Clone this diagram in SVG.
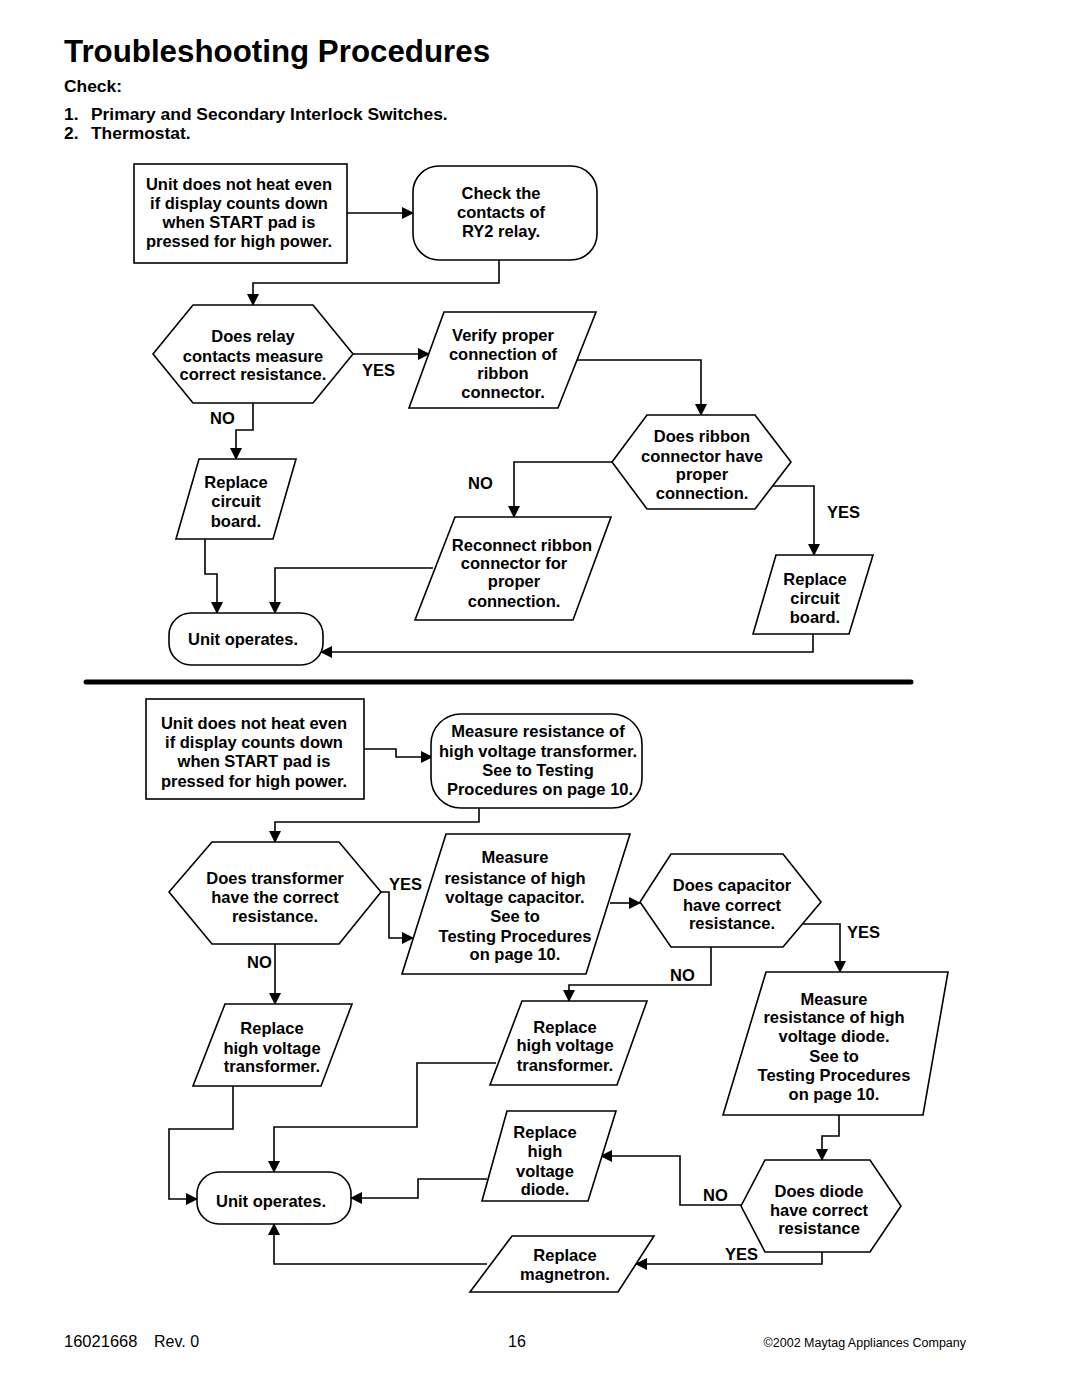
<svg xmlns="http://www.w3.org/2000/svg" width="1080" height="1397" viewBox="0 0 1080 1397">
<defs>
<marker id="arr" markerUnits="userSpaceOnUse" markerWidth="12" markerHeight="12" refX="11" refY="6" orient="auto">
<path d="M0,0 L12,6 L0,12 z" fill="#000"/>
</marker>
<style>
.n{fill:#fff;stroke:#000;stroke-width:1.6}
.t{font-family:"Liberation Sans",Arial,sans-serif;font-weight:bold;font-size:16.5px;text-anchor:middle;fill:#000}
.l{font-family:"Liberation Sans",Arial,sans-serif;font-weight:bold;font-size:16.5px;fill:#000}
.c{fill:none;stroke:#000;stroke-width:1.6;marker-end:url(#arr)}
.h{font-family:"Liberation Sans",Arial,sans-serif;font-weight:bold;fill:#000}
.f{font-family:"Liberation Sans",Arial,sans-serif;fill:#000}
</style>
</defs>
<rect width="1080" height="1397" fill="#fff"/>

<g id="header">
<text class="h" x="64" y="62" font-size="31.3">Troubleshooting Procedures</text>
<text class="h" x="64" y="92" font-size="17.4">Check:</text>
<text class="h" x="64" y="120" font-size="17.4">1.</text>
<text class="h" x="91" y="120" font-size="17.4">Primary and Secondary Interlock Switches.</text>
<text class="h" x="64" y="139" font-size="17.4">2.</text>
<text class="h" x="91" y="139" font-size="17.4">Thermostat.</text>
</g>

<g id="connectors">
<path class="c" d="M347,213 H413"/>
<path class="c" d="M499,260 V283 H253 V305"/>
<path class="c" d="M353,354 H429"/>
<path class="c" d="M577,360 H701 V415"/>
<path class="c" d="M612,462 H514 V517"/>
<path class="c" d="M773,486 H814 V555"/>
<path class="c" d="M253,403 V430 H236 V459"/>
<path class="c" d="M205,539 V574 H217 V613"/>
<path class="c" d="M433,568 H275 V613"/>
<path class="c" d="M813,634 V652 H321"/>
<path class="c" d="M362,749 H396 V757 H432"/>
<path class="c" d="M479,808 V822 H275 V842"/>
<path class="c" d="M381,892 H389 V938 H413"/>
<path class="c" d="M610,903 H640"/>
<path class="c" d="M803,924 H840 V972"/>
<path class="c" d="M711,947 V985 H569 V1001"/>
<path class="c" d="M275,944 V1004"/>
<path class="c" d="M496,1063 H417 V1127 H274 V1172"/>
<path class="c" d="M233,1086 V1129 H169 V1199 H197"/>
<path class="c" d="M487,1179 H418 V1198 H351"/>
<path class="c" d="M487,1264 H274 V1224"/>
<path class="c" d="M839,1115 V1136 H822 V1160"/>
<path class="c" d="M741,1205 H680 V1156 H601"/>
<path class="c" d="M822,1252 V1264 H636"/>
</g>

<g id="labels">
<text class="l" x="362" y="376">YES</text>
<text class="l" x="210" y="424">NO</text>
<text class="l" x="468" y="489">NO</text>
<text class="l" x="827" y="518">YES</text>
<text class="l" x="389" y="890">YES</text>
<text class="l" x="247" y="968">NO</text>
<text class="l" x="847" y="938">YES</text>
<text class="l" x="670" y="981">NO</text>
<text class="l" x="703" y="1201">NO</text>
<text class="l" x="725" y="1260">YES</text>
</g>

<g id="n1">
<rect class="n" x="134" y="164" width="213" height="99"/>
<text class="t" x="239" y="190">Unit does not heat even</text>
<text class="t" x="239" y="209">if display counts down</text>
<text class="t" x="239" y="228">when START pad is</text>
<text class="t" x="239" y="247">pressed for high power.</text>
</g>

<g id="n2">
<rect class="n" x="413" y="166" width="184" height="94" rx="26"/>
<text class="t" x="501" y="199">Check the</text>
<text class="t" x="501" y="218">contacts of</text>
<text class="t" x="501" y="237">RY2 relay.</text>
</g>

<g id="n3">
<polygon class="n" points="153,354 193,305 313,305 353,354 313,403 193,403"/>
<text class="t" x="253" y="342">Does relay</text>
<text class="t" x="253" y="362">contacts measure</text>
<text class="t" x="253" y="380">correct resistance.</text>
</g>

<g id="n4">
<polygon class="n" points="444,312 596,312 558,408 409,408"/>
<text class="t" x="503" y="341">Verify proper</text>
<text class="t" x="503" y="360">connection of</text>
<text class="t" x="503" y="379">ribbon</text>
<text class="t" x="503" y="398">connector.</text>
</g>

<g id="n5">
<polygon class="n" points="612,462 647,415 755,415 791,462 755,509 647,509"/>
<text class="t" x="702" y="442">Does ribbon</text>
<text class="t" x="702" y="462">connector have</text>
<text class="t" x="702" y="480">proper</text>
<text class="t" x="702" y="499">connection.</text>
</g>

<g id="n6">
<polygon class="n" points="199,459 296,459 273,539 176,539"/>
<text class="t" x="236" y="488">Replace</text>
<text class="t" x="236" y="507">circuit</text>
<text class="t" x="236" y="527">board.</text>
</g>

<g id="n7">
<polygon class="n" points="455,517 611,517 573,620 415,620"/>
<text class="t" x="522" y="551">Reconnect ribbon</text>
<text class="t" x="514" y="569">connector for</text>
<text class="t" x="514" y="587">proper</text>
<text class="t" x="514" y="607">connection.</text>
</g>

<g id="n8">
<polygon class="n" points="776,555 873,555 849,634 753,634"/>
<text class="t" x="815" y="585">Replace</text>
<text class="t" x="815" y="604">circuit</text>
<text class="t" x="815" y="623">board.</text>
</g>

<g id="n9">
<rect class="n" x="169" y="613" width="154" height="52" rx="22"/>
<text class="t" x="243" y="645">Unit operates.</text>
</g>

<g id="divider">
<line x1="86" y1="682" x2="911" y2="682" stroke="#000" stroke-width="5" stroke-linecap="round"/>
</g>

<g id="n10">
<rect class="n" x="146" y="699" width="218" height="100"/>
<text class="t" x="254" y="729">Unit does not heat even</text>
<text class="t" x="254" y="748">if display counts down</text>
<text class="t" x="254" y="767">when START pad is</text>
<text class="t" x="254" y="787">pressed for high power.</text>
</g>

<g id="n11">
<rect class="n" x="431" y="714" width="211" height="94" rx="30"/>
<text class="t" x="538" y="737">Measure resistance of</text>
<text class="t" x="538" y="757">high voltage transformer.</text>
<text class="t" x="538" y="776">See to Testing</text>
<text class="t" x="540" y="795">Procedures on page 10.</text>
</g>

<g id="n12">
<polygon class="n" points="169,892 212,842 339,842 381,892 339,944 212,944"/>
<text class="t" x="275" y="884">Does transformer</text>
<text class="t" x="275" y="903">have the correct</text>
<text class="t" x="275" y="922">resistance.</text>
</g>

<g id="n13">
<polygon class="n" points="446,834 630,834 586,974 402,974"/>
<text class="t" x="515" y="863">Measure</text>
<text class="t" x="515" y="884">resistance of high</text>
<text class="t" x="515" y="903">voltage capacitor.</text>
<text class="t" x="515" y="922">See to</text>
<text class="t" x="515" y="942">Testing Procedures</text>
<text class="t" x="515" y="960">on page 10.</text>
</g>

<g id="n14">
<polygon class="n" points="640,902 671,854 783,854 821,902 783,947 671,947"/>
<text class="t" x="732" y="891">Does capacitor</text>
<text class="t" x="732" y="911">have correct</text>
<text class="t" x="732" y="929">resistance.</text>
</g>

<g id="n15">
<polygon class="n" points="766,972 948,972 923,1115 723,1115"/>
<text class="t" x="834" y="1005">Measure</text>
<text class="t" x="834" y="1023">resistance of high</text>
<text class="t" x="834" y="1042">voltage diode.</text>
<text class="t" x="834" y="1062">See to</text>
<text class="t" x="834" y="1081">Testing Procedures</text>
<text class="t" x="834" y="1100">on page 10.</text>
</g>

<g id="n16">
<polygon class="n" points="225,1004 352,1004 321,1086 193,1086"/>
<text class="t" x="272" y="1034">Replace</text>
<text class="t" x="272" y="1054">high voltage</text>
<text class="t" x="272" y="1072">transformer.</text>
</g>

<g id="n17">
<polygon class="n" points="522,1001 647,1001 617,1085 490,1085"/>
<text class="t" x="565" y="1033">Replace</text>
<text class="t" x="565" y="1051">high voltage</text>
<text class="t" x="565" y="1071">transformer.</text>
</g>

<g id="n18">
<polygon class="n" points="507,1111 616,1111 588,1201 482,1201"/>
<text class="t" x="545" y="1138">Replace</text>
<text class="t" x="545" y="1157">high</text>
<text class="t" x="545" y="1177">voltage</text>
<text class="t" x="545" y="1195">diode.</text>
</g>

<g id="n19">
<rect class="n" x="197" y="1172" width="154" height="52" rx="22"/>
<text class="t" x="271" y="1207">Unit operates.</text>
</g>

<g id="n20">
<polygon class="n" points="741,1206 765,1160 870,1160 901,1206 870,1252 765,1252"/>
<text class="t" x="819" y="1197">Does diode</text>
<text class="t" x="819" y="1216">have correct</text>
<text class="t" x="819" y="1234">resistance</text>
</g>

<g id="n21">
<polygon class="n" points="512,1236 654,1236 618,1292 470,1292"/>
<text class="t" x="565" y="1261">Replace</text>
<text class="t" x="565" y="1280">magnetron.</text>
</g>

<g id="footer">
<text class="f" x="64" y="1347" font-size="16.5">16021668</text>
<text class="f" x="154" y="1347" font-size="16">Rev. 0</text>
<text class="f" x="517" y="1347" font-size="16" text-anchor="middle">16</text>
<text class="f" x="966" y="1347" font-size="12.5" text-anchor="end">©2002 Maytag Appliances Company</text>
</g>
</svg>
